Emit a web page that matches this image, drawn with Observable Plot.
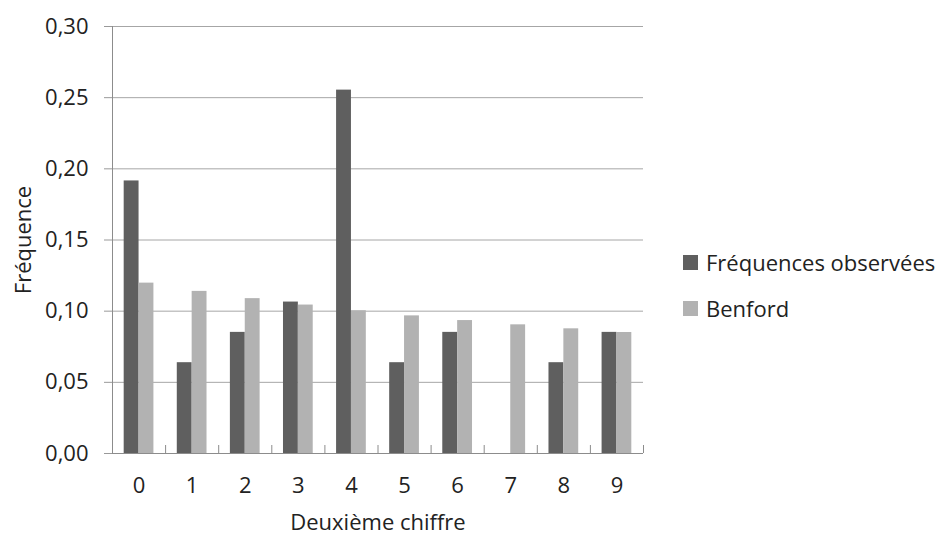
<!DOCTYPE html>
<html>
<head>
<meta charset="utf-8">
<script src="https://cdn.jsdelivr.net/npm/d3@7"></script>
<script src="https://cdn.jsdelivr.net/npm/@observablehq/plot@0.6"></script>
<style>
  html, body { margin: 0; padding: 0; background: #fff; }
  #wrap { position: relative; width: 942px; height: 536px; font-family: "Open Sans", sans-serif; color: #222; }
  #legend { position: absolute; left: 683px; top: 239px; font-size: 22px; }
  .row { display: flex; align-items: center; height: 46px; white-space: nowrap; }
  .sw { width: 15px; height: 15px; margin-right: 8px; }
</style>
</head>
<body>
<div id="wrap"><div id="legend"></div></div>
<script>
// ---- data ----
const digits = ["0", "1", "2", "3", "4", "5", "6", "7", "8", "9"];
const observed = [0.1915, 0.0638, 0.0851, 0.1064, 0.2553, 0.0638, 0.0851, 0.0, 0.0638, 0.0851];
const benford = [0.1197, 0.1139, 0.1088, 0.1043, 0.1003, 0.0967, 0.0934, 0.0904, 0.0876, 0.0850];
const seriesNames = ["Fréquences observées", "Benford"];
const seriesColors = ["#5f5f5f", "#b2b2b2"];
const yTicks = [0, 0.05, 0.10, 0.15, 0.20, 0.25, 0.30];
const xTitle = "Deuxième chiffre";
const yTitle = "Fréquence";

// table built from arrays
const rows = [];
digits.forEach((d, i) => {
  rows.push({i, digit: d, series: seriesNames[0], k: 0, value: observed[i]});
  rows.push({i, digit: d, series: seriesNames[1], k: 1, value: benford[i]});
});
const groupStart = 0.22, barW = 0.28; // fraction of category
const bounds = d3.range(0, digits.length + 1);
const centers = digits.map((d, i) => i + 0.5);

const fmt = d => d.toFixed(2).replace(".", ",");

const chart = Plot.plot({
  width: 942,
  height: 536,
  marginLeft: 112,
  marginRight: 299,
  marginTop: 26,
  marginBottom: 83,
  style: {fontFamily: "Open Sans, sans-serif", background: "transparent", color: "#222"},
  x: {domain: [0, digits.length], axis: null},
  y: {domain: [0, 0.3], axis: null},
  color: {domain: seriesNames, range: seriesColors},
  marks: [
    Plot.gridY(yTicks, {stroke: "#a6a6a6", strokeOpacity: 1}),
    Plot.axisY(yTicks, {tickSize: 8, tickPadding: 16, tickFormat: fmt, fontSize: 22, stroke: "#999", fill: "#222", label: null}),
    Plot.rectY(rows, {
      x1: d => d.i + groupStart + d.k * barW,
      x2: d => d.i + groupStart + (d.k + 1) * barW,
      y: "value",
      fill: "series"
    }),
    Plot.ruleX([0], {stroke: "#8c8c8c"}),
    Plot.ruleY([0], {stroke: "#8c8c8c"}),
    Plot.axisX(bounds, {tickSize: 8, dy: -8, tickFormat: () => "", stroke: "#8c8c8c", label: null}),
    Plot.axisX(centers, {tickSize: 0, tickPadding: 24, tickFormat: d => digits[Math.round(d - 0.5)], fontSize: 22, fill: "#222", label: null}),
    Plot.text([xTitle], {frameAnchor: "bottom", lineAnchor: "middle", textAnchor: "middle", dy: 69, fontSize: 22, fill: "#222"}),
    Plot.text([yTitle], {frameAnchor: "left", lineAnchor: "middle", textAnchor: "middle", dx: -89, rotate: -90, fontSize: 22, fill: "#222"})
  ]
});
document.getElementById("wrap").prepend(chart);
chart.style.position = "absolute";
chart.style.left = "0";
chart.style.top = "0";

const legend = document.getElementById("legend");
seriesNames.forEach((name, j) => {
  const row = document.createElement("div");
  row.className = "row";
  const sw = document.createElement("span");
  sw.className = "sw";
  sw.style.background = seriesColors[j];
  const label = document.createElement("span");
  label.textContent = name;
  row.append(sw, label);
  legend.append(row);
});
</script>
</body>
</html>
